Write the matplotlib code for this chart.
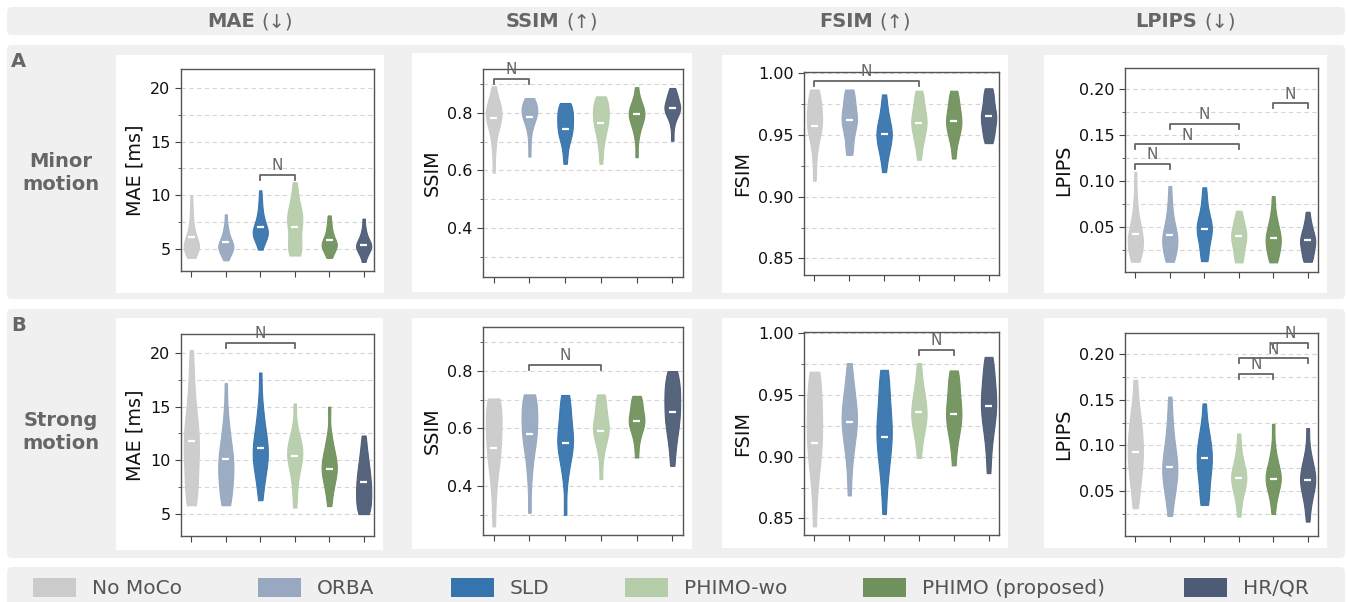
import numpy as np
import matplotlib
matplotlib.use("Agg")
import matplotlib.pyplot as plt
from matplotlib.patches import FancyBboxPatch, Rectangle
from matplotlib.offsetbox import TextArea, HPacker, AnnotationBbox
from matplotlib.ticker import MultipleLocator

# ---------------- data ----------------
methods = ["No MoCo", "ORBA", "SLD", "PHIMO-wo", "PHIMO (proposed)", "HR/QR"]
colors = ["#cbcbcb", "#97a8c0", "#3674ad", "#b6cdaa", "#70925c", "#4d5c76"]
metrics = ["MAE", "SSIM", "FSIM", "LPIPS"]
arrows = ["(\u2193)", "(\u2191)", "(\u2191)", "(\u2193)"]
ylabels = ["MAE [ms]", "SSIM", "FSIM", "LPIPS"]
row_letters = ["A", "B"]
row_names = ["Minor\nmotion", "Strong\nmotion"]

# Minor motion samples
minor_mae = [
    [4.13, 4.3, 4.5, 4.7, 4.9, 5.0, 5.1, 5.2, 5.3, 5.4, 5.5, 5.7, 5.9, 6.1, 6.4, 6.8, 7.3, 8.0, 8.8, 10.0],
    [3.9, 4.2, 4.5, 4.7, 4.9, 5.0, 5.1, 5.2, 5.3, 5.4, 5.6, 5.8, 6.0, 6.3, 6.7, 7.2, 8.2],
    [4.9, 5.4, 5.8, 6.0, 6.2, 6.3, 6.4, 6.5, 6.6, 6.8, 7.0, 7.2, 7.5, 7.8, 8.2, 8.8, 9.5, 10.45],
    [4.35, 4.45, 4.6, 4.9, 5.3, 5.6, 6.0, 6.5, 7.0, 7.3, 7.6, 7.8, 8.0, 8.3, 8.6, 9.0, 9.6, 10.3, 11.2],
    [4.13, 4.4, 4.7, 4.9, 5.1, 5.2, 5.3, 5.4, 5.5, 5.6, 5.8, 6.0, 6.3, 6.6, 7.0, 7.5, 8.1],
    [3.75, 4.3, 4.6, 4.8, 5.0, 5.1, 5.2, 5.3, 5.4, 5.6, 5.8, 6.0, 6.4, 6.9, 7.8],
]
minor_ssim = [
    [0.592, 0.66, 0.70, 0.73, 0.75, 0.76, 0.77, 0.78, 0.79, 0.80, 0.80, 0.81, 0.82, 0.83, 0.84, 0.86, 0.892],
    [0.648, 0.70, 0.74, 0.76, 0.77, 0.78, 0.79, 0.80, 0.80, 0.81, 0.81, 0.82, 0.83, 0.84, 0.845, 0.851],
    [0.623, 0.66, 0.69, 0.71, 0.72, 0.73, 0.74, 0.75, 0.76, 0.77, 0.78, 0.79, 0.80, 0.81, 0.82, 0.83, 0.834],
    [0.623, 0.67, 0.70, 0.72, 0.74, 0.75, 0.76, 0.77, 0.78, 0.79, 0.80, 0.81, 0.82, 0.83, 0.84, 0.85, 0.857],
    [0.646, 0.71, 0.74, 0.76, 0.77, 0.78, 0.79, 0.80, 0.80, 0.81, 0.82, 0.83, 0.85, 0.889],
    [0.703, 0.75, 0.78, 0.79, 0.80, 0.81, 0.81, 0.82, 0.82, 0.83, 0.84, 0.85, 0.86, 0.87, 0.886],
]
minor_fsim = [
    [0.913, 0.93, 0.94, 0.948, 0.952, 0.955, 0.958, 0.96, 0.963, 0.966, 0.97, 0.973, 0.977, 0.981, 0.984, 0.987],
    [0.934, 0.937, 0.943, 0.95, 0.954, 0.957, 0.96, 0.962, 0.964, 0.967, 0.97, 0.973, 0.977, 0.982, 0.985, 0.987],
    [0.920, 0.93, 0.936, 0.94, 0.944, 0.947, 0.95, 0.952, 0.955, 0.958, 0.962, 0.967, 0.974, 0.983],
    [0.930, 0.94, 0.946, 0.95, 0.954, 0.957, 0.96, 0.962, 0.965, 0.968, 0.972, 0.977, 0.982, 0.986],
    [0.931, 0.942, 0.948, 0.952, 0.955, 0.958, 0.961, 0.963, 0.966, 0.969, 0.973, 0.978, 0.982, 0.986],
    [0.9435, 0.946, 0.95, 0.954, 0.957, 0.96, 0.963, 0.965, 0.967, 0.97, 0.973, 0.977, 0.982, 0.985, 0.988],
]
minor_lpips = [
    [0.0117, 0.014, 0.018, 0.023, 0.027, 0.03, 0.032, 0.035, 0.038, 0.041, 0.044, 0.048, 0.053, 0.06, 0.07, 0.085, 0.11],
    [0.0117, 0.014, 0.019, 0.024, 0.028, 0.031, 0.034, 0.037, 0.04, 0.043, 0.047, 0.052, 0.058, 0.067, 0.078, 0.0944],
    [0.0124, 0.016, 0.022, 0.03, 0.036, 0.04, 0.043, 0.046, 0.049, 0.052, 0.055, 0.059, 0.064, 0.072, 0.082, 0.093],
    [0.011, 0.014, 0.02, 0.026, 0.03, 0.034, 0.037, 0.04, 0.043, 0.046, 0.05, 0.055, 0.06, 0.0674],
    [0.011, 0.014, 0.019, 0.024, 0.028, 0.031, 0.034, 0.037, 0.04, 0.043, 0.047, 0.052, 0.058, 0.067, 0.0834],
    [0.0117, 0.014, 0.018, 0.023, 0.027, 0.03, 0.033, 0.035, 0.038, 0.041, 0.045, 0.05, 0.056, 0.0663],
]
# Strong motion samples
strong_mae = [
    [5.78, 6.1, 6.6, 7.3, 8.0, 8.8, 9.5, 10.2, 10.8, 11.3, 11.8, 12.3, 12.8, 13.4, 14.2, 15.2, 16.5, 18.2, 20.3],
    [5.78, 6.0, 6.5, 7.1, 7.6, 8.1, 8.6, 9.0, 9.4, 9.8, 10.1, 10.5, 11.0, 11.6, 12.3, 13.2, 14.5, 17.2],
    [6.25, 7.5, 8.4, 9.1, 9.6, 10.0, 10.4, 10.8, 11.1, 11.5, 12.0, 12.6, 13.3, 14.2, 15.5, 18.2],
    [5.56, 7.0, 8.2, 9.0, 9.6, 10.0, 10.3, 10.6, 10.9, 11.2, 11.6, 12.1, 12.8, 15.3],
    [5.7, 6.8, 7.6, 8.2, 8.6, 8.9, 9.2, 9.5, 9.8, 10.2, 10.7, 11.3, 12.2, 15.0],
    [4.95, 5.1, 5.4, 5.8, 6.2, 6.6, 6.9, 7.3, 7.7, 8.0, 8.4, 8.8, 9.3, 9.8, 10.4, 11.2, 12.3],
]
strong_ssim = [
    [0.26, 0.36, 0.42, 0.46, 0.49, 0.51, 0.53, 0.55, 0.57, 0.59, 0.61, 0.63, 0.65, 0.67, 0.69, 0.70, 0.704],
    [0.307, 0.42, 0.48, 0.52, 0.55, 0.57, 0.58, 0.6, 0.62, 0.64, 0.66, 0.68, 0.7, 0.71, 0.718],
    [0.3, 0.42, 0.47, 0.5, 0.52, 0.54, 0.55, 0.56, 0.58, 0.6, 0.62, 0.65, 0.68, 0.70, 0.716],
    [0.424, 0.5, 0.54, 0.56, 0.58, 0.59, 0.6, 0.61, 0.62, 0.64, 0.66, 0.69, 0.705, 0.718],
    [0.499, 0.55, 0.58, 0.6, 0.61, 0.62, 0.63, 0.64, 0.65, 0.67, 0.69, 0.70, 0.713],
    [0.47, 0.53, 0.57, 0.6, 0.62, 0.64, 0.66, 0.68, 0.7, 0.72, 0.74, 0.76, 0.78, 0.799],
]
strong_fsim = [
    [0.8435, 0.87, 0.885, 0.895, 0.902, 0.908, 0.914, 0.92, 0.926, 0.932, 0.938, 0.945, 0.952, 0.96, 0.965, 0.969],
    [0.8686, 0.89, 0.903, 0.912, 0.918, 0.923, 0.928, 0.932, 0.936, 0.941, 0.947, 0.954, 0.963, 0.976],
    [0.8535, 0.875, 0.888, 0.897, 0.905, 0.911, 0.916, 0.921, 0.926, 0.932, 0.939, 0.947, 0.957, 0.966, 0.9705],
    [0.899, 0.912, 0.92, 0.925, 0.929, 0.933, 0.936, 0.94, 0.944, 0.949, 0.955, 0.963, 0.976],
    [0.893, 0.908, 0.917, 0.923, 0.927, 0.931, 0.935, 0.939, 0.943, 0.948, 0.954, 0.961, 0.966, 0.97],
    [0.8867, 0.905, 0.917, 0.925, 0.931, 0.936, 0.941, 0.945, 0.95, 0.955, 0.961, 0.969, 0.976, 0.981],
]
strong_lpips = [
    [0.031, 0.048, 0.06, 0.07, 0.078, 0.085, 0.092, 0.099, 0.106, 0.114, 0.122, 0.132, 0.145, 0.172],
    [0.0225, 0.04, 0.05, 0.058, 0.064, 0.07, 0.075, 0.08, 0.086, 0.093, 0.102, 0.115, 0.13, 0.1535],
    [0.0346, 0.038, 0.05, 0.06, 0.068, 0.075, 0.081, 0.086, 0.091, 0.097, 0.104, 0.112, 0.122, 0.146],
    [0.0218, 0.038, 0.047, 0.053, 0.058, 0.062, 0.065, 0.068, 0.072, 0.077, 0.084, 0.095, 0.113],
    [0.0247, 0.04, 0.049, 0.055, 0.059, 0.062, 0.065, 0.068, 0.072, 0.077, 0.085, 0.097, 0.1235],
    [0.0163, 0.033, 0.043, 0.05, 0.055, 0.059, 0.063, 0.067, 0.071, 0.076, 0.083, 0.094, 0.119],
]

# medians (white markers)
minor_mae_med = [6.1, 5.6, 7.0, 7.0, 5.8, 5.3]
minor_ssim_med = [0.781, 0.787, 0.744, 0.765, 0.795, 0.816]
minor_fsim_med = [0.9576, 0.9624, 0.951, 0.9595, 0.9616, 0.9654]
minor_lpips_med = [0.0415, 0.0408, 0.047, 0.0397, 0.0372, 0.035]
strong_mae_med = [11.76, 10.1, 11.1, 10.4, 9.2, 7.96]
strong_ssim_med = [0.533, 0.580, 0.551, 0.592, 0.624, 0.658]
strong_fsim_med = [0.9113, 0.928, 0.916, 0.936, 0.935, 0.9408]
strong_lpips_med = [0.0932, 0.0763, 0.0866, 0.0642, 0.0635, 0.0617]

# non-significant pairs: (i, j, bracket height)
minor_mae_ns = [(2, 3, 11.9)]
minor_ssim_ns = [(0, 1, 0.918)]
minor_fsim_ns = [(0, 3, 0.994)]
minor_lpips_ns = [(0, 1, 0.1184), (0, 3, 0.140), (1, 3, 0.162), (4, 5, 0.1847)]
strong_mae_ns = [(1, 3, 21.0)]
strong_ssim_ns = [(1, 3, 0.8196)]
strong_fsim_ns = [(3, 4, 0.9868)]
strong_lpips_ns = [(3, 4, 0.1784), (3, 5, 0.1956), (4, 5, 0.2128)]

ylims = [(2.9, 21.8), (0.23, 0.952), (0.8365, 1.0012), (0.0005, 0.2233)]
major_steps = [5, 0.2, 0.05, 0.05]
minor_steps = [2.5, 0.1, 0.025, 0.025]
tick_fmt = ["{:.0f}", "{:.1f}", "{:.2f}", "{:.2f}"]

rows = [
    dict(samples=[minor_mae, minor_ssim, minor_fsim, minor_lpips],
         meds=[minor_mae_med, minor_ssim_med, minor_fsim_med, minor_lpips_med],
         ns=[minor_mae_ns, minor_ssim_ns, minor_fsim_ns, minor_lpips_ns]),
    dict(samples=[strong_mae, strong_ssim, strong_fsim, strong_lpips],
         meds=[strong_mae_med, strong_ssim_med, strong_fsim_med, strong_lpips_med],
         ns=[strong_mae_ns, strong_ssim_ns, strong_fsim_ns, strong_lpips_ns]),
]

# ---------------- layout (pixels) ----------------
W, H = 1347, 602
AX = [
    [(181, 69, 374, 271), (483, 69, 683, 277), (804, 72, 999, 275), (1125, 68, 1318, 272)],
    [(181, 334, 374, 536), (483, 327, 683, 535), (804, 332, 999, 535), (1125, 333, 1318, 536)],
]
WB = [
    [(116, 55, 384, 293), (412, 53, 692, 292), (722, 55, 1008, 293), (1044, 55, 1327, 293)],
    [(116, 318, 383, 550), (412, 318, 692, 549), (722, 318, 1008, 548), (1044, 318, 1327, 548)],
]
GRAY_BOXES = [(7, 7, 1345, 35), (7, 45, 1345, 299), (7, 309, 1345, 558), (7, 567, 1345, 610)]
LEG_X = [33, 258, 451, 625, 863, 1184]

BG = "#f0f0f0"
TXT = "#666666"

fig = plt.figure(figsize=(W / 100, H / 100), dpi=100)
bg = fig.add_axes([0, 0, 1, 1], zorder=-10)
bg.set_xlim(0, W)
bg.set_ylim(H, 0)
bg.axis("off")

for (x0, y0, x1, y1) in GRAY_BOXES:
    bg.add_patch(FancyBboxPatch((x0, y0), x1 - x0, y1 - y0,
                                boxstyle="round,pad=0,rounding_size=5",
                                fc=BG, ec="none"))
for r in range(2):
    for (x0, y0, x1, y1) in WB[r]:
        bg.add_patch(Rectangle((x0, y0), x1 - x0, y1 - y0, fc="white", ec="none"))

# headers
for c in range(4):
    cx = (WB[0][c][0] + WB[0][c][2]) / 2
    pack = HPacker(children=[
        TextArea(metrics[c], textprops=dict(fontsize=14, fontweight="bold", color=TXT)),
        TextArea(arrows[c], textprops=dict(fontsize=14, color=TXT)),
    ], align="baseline", pad=0, sep=5)
    ab = AnnotationBbox(pack, (cx, 21.5), xycoords="data", frameon=False,
                        box_alignment=(0.5, 0.5))
    bg.add_artist(ab)

# row labels
for r, (ly, cy) in enumerate([(61.5, 173), (325.5, 432)]):
    bg.text(11, ly, row_letters[r], fontsize=14, fontweight="bold", color=TXT,
            ha="left", va="center")
    bg.text(61, cy, row_names[r], fontsize=14, fontweight="bold", color=TXT,
            ha="center", va="center", linespacing=1.25)

# legend
for i, m in enumerate(methods):
    bg.add_patch(Rectangle((LEG_X[i], 578), 43, 19, fc=colors[i], ec="none"))
    bg.text(LEG_X[i] + 59, 588, m, fontsize=14.5, color="#555555", ha="left", va="center")

pos = np.arange(len(methods))
for r in range(2):
    for c in range(4):
        x0, y0, x1, y1 = AX[r][c]
        ax = fig.add_axes([x0 / W, 1 - y1 / H, (x1 - x0) / W, (y1 - y0) / H], zorder=1)
        parts = ax.violinplot(rows[r]["samples"][c], positions=pos, widths=0.44,
                              showextrema=False, bw_method=0.45)
        for body, col in zip(parts["bodies"], colors):
            body.set_facecolor(col)
            body.set_edgecolor(col)
            body.set_alpha(0.95)
            body.set_linewidth(0.8)
            body.set_zorder(2)
        ax.hlines(rows[r]["meds"][c], pos - 0.1, pos + 0.1, color="white", lw=1.6, zorder=3)
        ax.set_xlim(-0.3, 5.3)
        lo, hi = ylims[c]
        ax.set_ylim(lo, hi)
        ax.yaxis.set_major_locator(MultipleLocator(major_steps[c]))
        ax.yaxis.set_minor_locator(MultipleLocator(minor_steps[c]))
        fmt = tick_fmt[c]
        ax.yaxis.set_major_formatter(plt.FuncFormatter(lambda v, p, f=fmt: f.format(v)))
        ax.set_xticks(pos)
        ax.set_xticklabels([])
        ax.yaxis.grid(True, which="both", ls=(0, (4, 3)), color="#d6d6d6", lw=0.8)
        ax.set_axisbelow(True)
        ax.tick_params(axis="y", which="major", labelsize=11.5, length=4, color="#444444",
                       labelcolor="#111111")
        ax.tick_params(axis="y", which="minor", length=2.5, color="#444444")
        ax.tick_params(axis="x", length=4, color="#444444")
        for s in ax.spines.values():
            s.set_color("#555555")
            s.set_linewidth(1.0)
        ax.set_ylabel(ylabels[c], fontsize=13.8, color="#111111")
        rng = hi - lo
        for (i, j, y) in rows[r]["ns"][c]:
            tip = 0.025 * rng
            ax.plot([i, i, j, j], [y - tip, y, y, y - tip], color="#666666", lw=1.3,
                    clip_on=False, zorder=4)
            ax.text((i + j) / 2, y + 0.008 * rng, "N", ha="center", va="bottom",
                    fontsize=11, color="#666666", zorder=4)

fig.savefig("out.png", dpi=100)
